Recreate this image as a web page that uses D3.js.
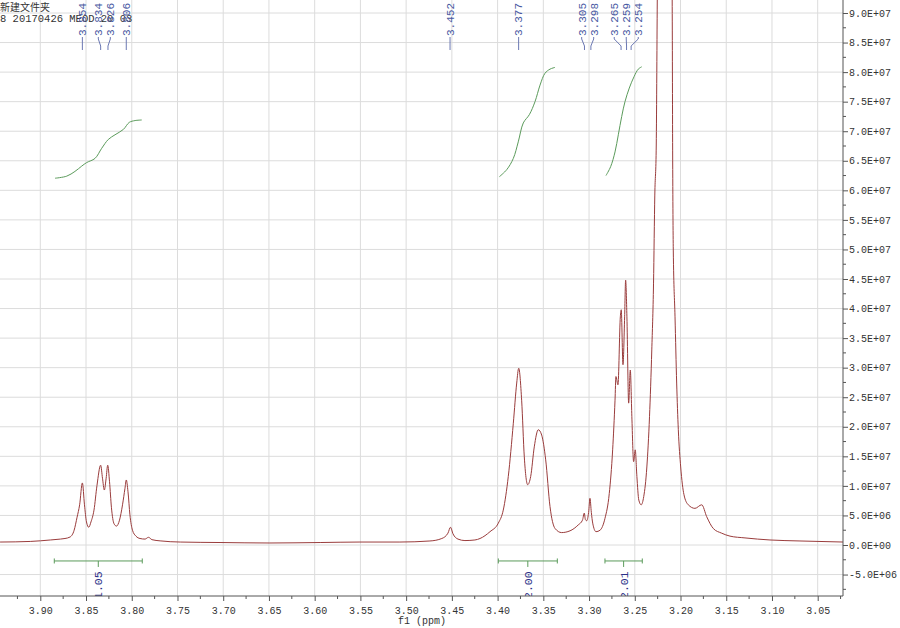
<!DOCTYPE html>
<html>
<head>
<meta charset="utf-8">
<script src="https://cdn.jsdelivr.net/npm/d3@7"></script>
<style>
body { margin: 0; background: #fff; }
svg { display: block; }
</style>
</head>
<body>
<div id="chart"></div>
<script>
// 1H spectrum, [ppm, intensity in units of 1e6]
const spectrum = [
  [3.944,0.5],[3.911,0.6],[3.889,0.85],[3.878,1.0],[3.873,1.1],[3.8675,1.35],[3.863,2.5],
  [3.8598,4.7],[3.857,6.8],[3.854,10.5],[3.8517,6.8],[3.8495,3.9],[3.847,3.0],[3.8446,3.9],
  [3.8413,5.9],[3.838,10.1],[3.834,13.5],[3.832,11.3],[3.830,9.3],[3.828,11.3],[3.8263,13.5],
  [3.8243,10.7],[3.8222,6.3],[3.8194,3.6],[3.8167,3.2],[3.8134,4.2],[3.8101,6.8],[3.8074,9.6],
  [3.806,11.0],[3.8041,9.0],[3.802,5.1],[3.7992,2.5],[3.7954,1.5],[3.791,1.1],[3.7855,1.0],
  [3.7817,1.3],[3.7779,0.9],[3.769,0.7],[3.747,0.5],[3.7035,0.42],[3.649,0.34],[3.594,0.42],
  [3.5505,0.5],[3.5068,0.5],[3.474,0.68],[3.461,1.1],[3.4543,2.0],[3.4515,3.0],[3.4488,1.9],
  [3.4433,1.0],[3.4357,0.75],[3.4248,0.85],[3.4192,1.1],[3.4083,2.25],[3.3992,3.7],[3.3938,5.9],
  [3.3883,11.6],[3.3828,20.6],[3.3791,27.4],[3.3769,29.9],[3.3737,24.5],[3.3708,14.9],
  [3.3671,10.2],[3.3638,11.6],[3.3599,16.6],[3.3555,19.5],[3.3518,18.6],[3.3474,14.4],
  [3.3427,6.5],[3.3372,2.8],[3.33,2.1],[3.3208,2.4],[3.3118,3.4],[3.3072,4.2],[3.3052,5.4],
  [3.304,4.3],[3.3026,4.1],[3.3005,5.5],[3.299,7.9],[3.2975,5.5],[3.296,3.7],[3.2924,2.25],
  [3.288,2.5],[3.2826,4.5],[3.2779,8.7],[3.2742,16.1],[3.2716,24.5],[3.2706,28.5],[3.2684,27.1],
  [3.2658,38.6],[3.2648,39.8],[3.2629,30.5],[3.2611,38.6],[3.26,44.8],[3.2586,38.6],[3.2567,24.0],
  [3.2549,29.6],[3.2532,21.7],[3.2513,14.1],[3.2495,16.1],[3.2477,11.6],[3.2456,7.6],[3.243,6.8],
  [3.2402,8.2],[3.2368,13.2],[3.2339,21.7],[3.2314,33.0],[3.2295,44.3],[3.2281,59.2],[3.2266,66.8],
  [3.2254,92.2],[3.2215,150],[3.2172,250],[3.2128,150],[3.2091,92.2],[3.2086,66.8],[3.2079,49.9],
  [3.206,38.6],[3.2042,27.4],[3.2024,19.5],[3.1998,13.2],[3.1962,8.5],[3.1915,6.8],[3.1842,6.2],
  [3.1768,6.8],[3.1714,4.8],[3.1642,2.8],[3.155,2.0],[3.1459,1.5],[3.1295,1.2],[3.1022,0.85],
  [3.0694,0.68],[3.022,0.5]
];

// integral traces, same units
const integral1 = [[3.8839,62.05],[3.8711,62.4],[3.8621,63.2],[3.8547,64.1],[3.8493,64.7],[3.8402,65.4],
  [3.8329,67.1],[3.8257,68.6],[3.8183,69.4],[3.8092,70.3],[3.8027,71.5],[3.7965,71.8],[3.7891,71.9]];
const integral2 = [[3.3981,62.3],[3.39,63.5],[3.3828,65.4],[3.3774,68.2],[3.3719,71.4],[3.3653,72.8],
  [3.3591,75.0],[3.3536,77.8],[3.3482,79.8],[3.3427,80.5],[3.3372,80.8]];
const integral3 = [[3.2815,62.5],[3.2764,64.0],[3.2716,66.5],[3.268,69.4],[3.2643,72.5],[3.2607,75.0],
  [3.256,77.3],[3.2509,79.2],[3.2462,80.5],[3.2424,80.9]];

// integration ranges
const rangeFrom = [3.8847, 3.3992, 3.2826];
const rangeTo = [3.7885, 3.3347, 3.2418];
const rangeValue = ["1.05", "2.00", "2.01"];

// picked peaks
const peakGroups = [
  [3.854, 3.834, 3.826, 3.806],
  [3.452],
  [3.377],
  [3.305, 3.298],
  [3.265, 3.259, 3.254]
];

const ppmTicks = [3.90,3.85,3.80,3.75,3.70,3.65,3.60,3.55,3.50,3.45,3.40,3.35,3.30,3.25,3.20,3.15,3.10,3.05];
const intTicks = [-5,0,5,10,15,20,25,30,35,40,45,50,55,60,65,70,75,80,85,90];

const W = 900, H = 628;
const plotR = 843, plotB = 596;
const mono = "'Liberation Mono', 'DejaVu Sans Mono', monospace";

const x = d3.scaleLinear().domain([3.90, 3.05]).range([40.3, 817.7]);
const y = d3.scaleLinear().domain([0, 90]).range([545, 13]);

const svg = d3.select('#chart').append('svg')
    .attr('width', W)
    .attr('height', H);

svg.append('defs').append('clipPath')
    .attr('id', 'plotclip')
    .append('rect')
    .attr('x', 0).attr('y', 0)
    .attr('width', plotR).attr('height', plotB);

// grid
svg.append('g').selectAll('line')
    .data(ppmTicks)
    .enter().append('line')
    .attr('x1', d => x(d)).attr('x2', d => x(d))
    .attr('y1', 0).attr('y2', plotB)
    .attr('stroke', '#dcdcdc');

svg.append('g').selectAll('line')
    .data(intTicks)
    .enter().append('line')
    .attr('x1', 0).attr('x2', plotR)
    .attr('y1', d => y(d)).attr('y2', d => y(d))
    .attr('stroke', '#dcdcdc');

// header text
svg.append('text')
    .attr('x', 0).attr('y', 11)
    .attr('font-family', "'Noto Sans CJK SC', sans-serif")
    .attr('font-size', 10)
    .attr('fill', '#333')
    .text('新建文件夹');
svg.append('text')
    .attr('x', 0).attr('y', 22)
    .attr('font-family', mono)
    .attr('font-size', 10.5)
    .attr('fill', '#333')
    .text('8 20170426 MEOD 20 03');

const plot = svg.append('g').attr('clip-path', 'url(#plotclip)');

// spectrum trace
const line = d3.line()
    .x(d => x(d[0]))
    .y(d => y(d[1]))
    .curve(d3.curveMonotoneX);

plot.append('path')
    .datum(spectrum)
    .attr('d', line)
    .attr('fill', 'none')
    .attr('stroke', '#9a3c3c')
    .attr('stroke-width', 1);

// integral curves
const intLine = d3.line()
    .x(d => x(d[0]))
    .y(d => y(d[1]))
    .curve(d3.curveCatmullRom);

plot.selectAll('.integral')
    .data([integral1, integral2, integral3])
    .enter().append('path')
    .attr('class', 'integral')
    .attr('d', intLine)
    .attr('fill', 'none')
    .attr('stroke', '#5b9b5b')
    .attr('stroke-width', 1);

// integration bars
const barY = y(-2.7);
const ranges = rangeFrom.map((f, i) => ({from: f, to: rangeTo[i], label: rangeValue[i]}));
const rg = plot.selectAll('.range')
    .data(ranges)
    .enter().append('g')
    .attr('class', 'range');

rg.append('path')
    .attr('d', d => {
        const a = x(d.from), b = x(d.to), c = x((d.from + d.to) / 2);
        return `M${a},${barY - 2.5}V${barY + 2.5}M${a},${barY}H${b}M${b},${barY - 2.5}V${barY + 2.5}M${c},${barY}V${barY + 6}`;
    })
    .attr('fill', 'none')
    .attr('stroke', '#5b9b5b');

rg.append('text')
    .attr('transform', d => `translate(${x((d.from + d.to) / 2)},${plotB + 3}) rotate(-90)`)
    .attr('dy', '0.35em')
    .attr('font-family', mono)
    .attr('font-size', 11.5)
    .attr('fill', '#2b3088')
    .text(d => d.label);

// peak labels, spread apart inside each group
const minGap = 12;
const labels = [];
peakGroups.forEach(g => {
    const px = g.map(p => x(p));
    const lx = px.slice();
    for (let it = 0; it < 50; it++) {
        for (let i = 1; i < lx.length; i++) {
            const gap = lx[i] - lx[i - 1];
            if (gap < minGap) {
                const s = (minGap - gap) / 2;
                lx[i - 1] -= s;
                lx[i] += s;
            }
        }
    }
    g.forEach((p, i) => labels.push({ppm: p, px: px[i], lx: lx[i]}));
});

const pl = svg.append('g').selectAll('g')
    .data(labels)
    .enter().append('g');

pl.append('path')
    .attr('d', d => `M${d.lx},37V39L${d.px},46V50`)
    .attr('fill', 'none')
    .attr('stroke', '#6b78b3');

pl.append('text')
    .attr('transform', d => `translate(${d.lx},36) rotate(-90)`)
    .attr('dy', '0.35em')
    .attr('font-family', mono)
    .attr('font-size', 11)
    .attr('fill', '#4858a2')
    .text(d => d.ppm.toFixed(3));

// axes
function sci(v) {
    const val = v * 1e6;
    if (val === 0) return '0.0E+00';
    const e = Math.floor(Math.log10(Math.abs(val)));
    const m = val / Math.pow(10, e);
    return (m < 0 ? '-' : '') + Math.abs(m).toFixed(1) + 'E+' + String(e).padStart(2, '0');
}

const yAxis = d3.axisRight(y)
    .tickValues(intTicks)
    .tickSize(5)
    .tickPadding(1)
    .tickFormat(sci);

const ya = svg.append('g')
    .attr('transform', `translate(${plotR},0)`)
    .call(yAxis);
ya.select('.domain').remove();
ya.selectAll('line').attr('stroke', '#555');
ya.selectAll('text')
    .attr('font-family', mono)
    .attr('font-size', 10)
    .attr('fill', '#333');

ya.selectAll('.minor')
    .data(intTicks.map(d => d - 2.5))
    .enter().append('line')
    .attr('class', 'minor')
    .attr('x1', 0).attr('x2', 3)
    .attr('y1', d => y(d)).attr('y2', d => y(d))
    .attr('stroke', '#555');

const xAxis = d3.axisBottom(x)
    .tickValues(ppmTicks)
    .tickSize(5)
    .tickPadding(6)
    .tickFormat(d3.format('.2f'));

const xa = svg.append('g')
    .attr('transform', `translate(0,${plotB})`)
    .call(xAxis);
xa.select('.domain').remove();
xa.selectAll('line').attr('stroke', '#555');
xa.selectAll('text')
    .attr('font-family', mono)
    .attr('font-size', 10)
    .attr('fill', '#333');

xa.selectAll('.minor')
    .data(ppmTicks.map(d => d + 0.025).concat([3.025]))
    .enter().append('line')
    .attr('class', 'minor')
    .attr('x1', d => x(d)).attr('x2', d => x(d))
    .attr('y1', 0).attr('y2', 3)
    .attr('stroke', '#555');

svg.append('path')
    .attr('d', `M0,${plotB}H${plotR}V0`)
    .attr('fill', 'none')
    .attr('stroke', '#555');

svg.append('text')
    .attr('x', 398).attr('y', 624)
    .attr('font-family', mono)
    .attr('font-size', 10)
    .attr('fill', '#333')
    .text('f1 (ppm)');
</script>
</body>
</html>
